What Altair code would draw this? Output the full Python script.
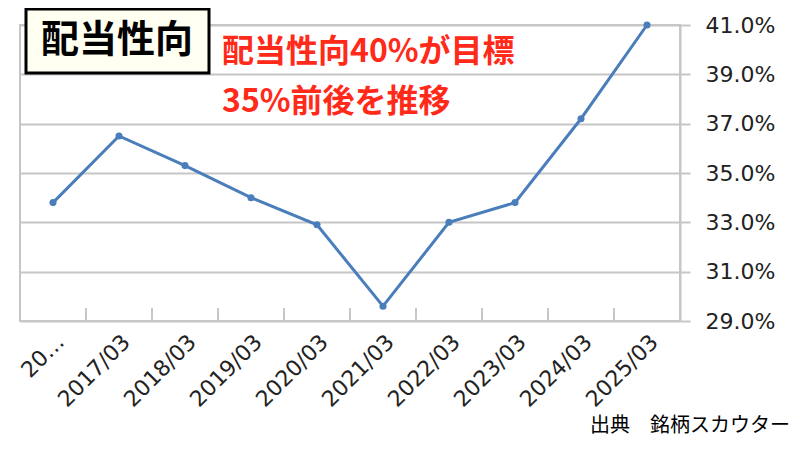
import json
import altair as alt
import pandas as pd

# ---- data ----
labels = ["20…", "2017/03", "2018/03", "2019/03", "2020/03",
          "2021/03", "2022/03", "2023/03", "2024/03", "2025/03"]
values = [33.8, 36.5, 35.3, 34.0, 32.9, 29.6, 33.0, 33.8, 37.2, 41.0]
y_ticks = [29, 31, 33, 35, 37, 39, 41]

title_text = "配当性向"
note_lines = ["配当性向40%が目標", "35%前後を推移"]
source_text = "出典　銘柄スカウター"

n = len(labels)
df = pd.DataFrame({"pos": [i + 0.5 for i in range(n)], "label": labels, "value": values})
ticks_df = pd.DataFrame({"pos": list(range(n + 1))})

GRID = "#c6c6c6"
BLUE = "#4a7ebb"
RED = "#ff2a1a"
FONT = "Noto Sans CJK JP"
NUMFONT = "DejaVu Sans"
W, H = 660, 296

label_expr = json.dumps(labels) + "[round(datum.value - 0.5)]"

xscale = alt.Scale(domain=[0, n], nice=False, zero=False)
yscale = alt.Scale(domain=[29, 41], nice=False, zero=False)

x_axis = alt.Axis(values=[i + 0.5 for i in range(n)], labelExpr=label_expr,
                  labelAngle=-45, labelFontSize=22, labelFont=NUMFONT,
                  labelColor="#222", labelPadding=10, ticks=False,
                  domain=False, grid=False, title=None, labelOverlap=False,
                  labelLimit=200)
y_axis = alt.Axis(orient="right", values=y_ticks,
                  labelExpr="format(datum.value, '.1f') + '%'",
                  labelFontSize=22, labelFont=NUMFONT, labelColor="#222",
                  labelPadding=15, tickSize=10, tickColor=GRID, tickWidth=2,
                  domainColor=GRID, domainWidth=2, gridColor=GRID, gridWidth=2,
                  grid=True, title=None)

line = alt.Chart(df).mark_line(color=BLUE, strokeWidth=3).encode(
    x=alt.X("pos:Q", scale=xscale, axis=x_axis),
    y=alt.Y("value:Q", scale=yscale, axis=y_axis),
)
points = alt.Chart(df).mark_circle(color=BLUE, size=50, opacity=1).encode(
    x=alt.X("pos:Q", scale=xscale),
    y=alt.Y("value:Q", scale=yscale),
)
tick_marks = alt.Chart(ticks_df).mark_rule(color=GRID, strokeWidth=2).encode(
    x=alt.X("pos:Q", scale=xscale),
    y=alt.value(H - 13), y2=alt.value(H),
)

box = alt.Chart(pd.DataFrame({"a": [0]})).mark_rect(
    fill="#fffff2", stroke="black", strokeWidth=3).encode(
    x=alt.value(6), x2=alt.value(189), y=alt.value(-16), y2=alt.value(48))
title = alt.Chart(pd.DataFrame({"a": [0]})).mark_text(
    text=title_text, font=FONT, fontSize=38, fontWeight="bold", color="black",
    align="center", baseline="middle").encode(x=alt.value(97), y=alt.value(16))
note1 = alt.Chart(pd.DataFrame({"a": [0]})).mark_text(
    text=note_lines[0], font=FONT, fontSize=32, fontWeight="bold", color=RED,
    align="left", baseline="middle").encode(x=alt.value(202), y=alt.value(27))
note2 = alt.Chart(pd.DataFrame({"a": [0]})).mark_text(
    text=note_lines[1], font=FONT, fontSize=32, fontWeight="bold", color=RED,
    align="left", baseline="middle").encode(x=alt.value(202), y=alt.value(77))
source = alt.Chart(pd.DataFrame({"a": [0]})).mark_text(
    text=source_text, font=FONT, fontSize=20, color="black",
    align="right", baseline="middle").encode(x=alt.value(770), y=alt.value(401))

chart = alt.layer(tick_marks, line, points, box, title, note1, note2, source).properties(
    width=W, height=H,
    autosize=alt.AutoSizeParams(type="none"),
    padding={"left": 12, "top": 17, "right": 110, "bottom": 120},
    background="white",
).configure_view(stroke=GRID, strokeWidth=2)

chart.save("out.html", embed_options={"renderer": "svg", "actions": False})
